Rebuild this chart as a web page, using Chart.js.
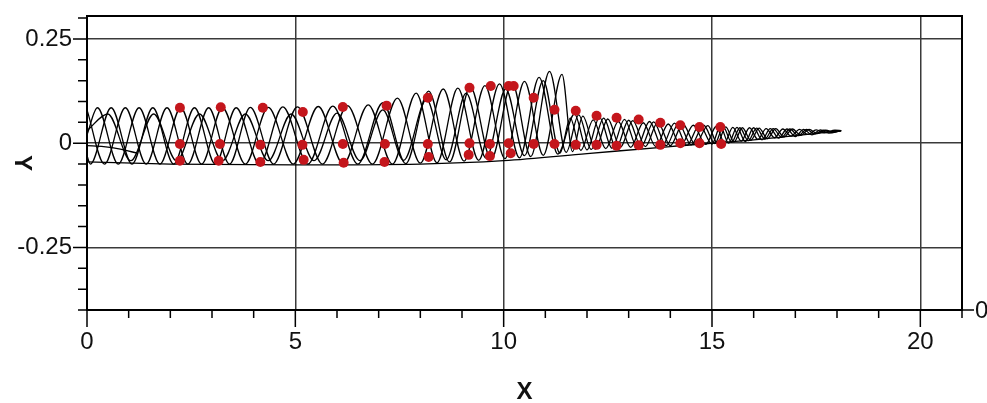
<!DOCTYPE html>
<html>
<head>
<meta charset="utf-8">
<script src="https://cdn.jsdelivr.net/npm/chart.js@4"></script>
<style>
  html, body { margin: 0; padding: 0; background: #fff; }
</style>
</head>
<body>
<canvas id="waveChart" width="987" height="403"></canvas>
<script>
// axis ticks
var xTickLabels = [0, 5, 10, 15, 20];
var yTickLabels = [-0.25, 0, 0.25];
var xMinorTicks = [0, 1, 2, 3, 4, 5, 6, 7, 8, 9, 10, 11, 12, 13, 14, 15, 16, 17, 18, 19, 20, 21];
var yMinorTicks = [-0.4, -0.35, -0.3, -0.25, -0.2, -0.15, -0.1, -0.05, 0, 0.05, 0.1, 0.15, 0.2, 0.25, 0.3];

// computed outlines, four phases (x, y)
var waveA = [[0,0.02],[0.25,0.085],[0.75,-0.05],[1.25,0.085],[1.75,-0.05],[2.25,0.085],[2.75,-0.05],[3.25,0.085],[3.8,-0.05],[4.35,0.086],[4.95,-0.05],[5.55,0.088],[6.15,-0.05],[6.75,0.092],[7.33,-0.05],[7.9,0.12],[8.4,-0.047],[8.9,0.132],[9.4,-0.041],[9.9,0.142],[10.38,-0.035],[10.85,0.158],[11.3,-0.026],[11.7,0.07],[12.0,-0.016],[12.3,0.062],[12.6,-0.012],[12.9,0.057],[13.2,-0.009],[13.5,0.052],[13.8,-0.007],[14.1,0.048],[14.4,-0.005],[14.7,0.044],[15.0,-0.002],[15.2,0.04],[15.4,0.0],[15.6,0.038],[15.8,0.004],[16.0,0.037],[16.2,0.008],[16.4,0.035],[16.6,0.012],[16.8,0.034],[17.0,0.016],[17.2,0.033],[17.4,0.02],[17.6,0.032],[17.8,0.024],[18.1,0.03]];
var waveB = [[0,-0.03],[0.08,-0.05],[0.58,0.085],[1.08,-0.05],[1.58,0.085],[2.08,-0.05],[2.58,0.085],[3.08,-0.05],[3.58,0.085],[4.14,-0.05],[4.7,0.087],[5.3,-0.05],[5.9,0.089],[6.5,-0.05],[7.1,0.097],[7.65,-0.049],[8.2,0.125],[8.7,-0.045],[9.2,0.135],[9.7,-0.039],[10.2,0.145],[10.65,-0.032],[11.1,0.172],[11.5,-0.022],[11.8,0.068],[12.1,-0.015],[12.4,0.06],[12.7,-0.011],[13.0,0.055],[13.3,-0.008],[13.6,0.051],[13.9,-0.006],[14.2,0.047],[14.5,-0.004],[14.8,0.043],[15.07,-0.001],[15.27,0.039],[15.47,0.002],[15.67,0.037],[15.87,0.006],[16.07,0.036],[16.27,0.01],[16.47,0.035],[16.67,0.014],[16.87,0.034],[17.07,0.018],[17.27,0.033],[17.47,0.022],[17.67,0.031],[17.87,0.026],[18.1,0.03]];
var waveC = [[0,0.08],[0.42,-0.05],[0.92,0.085],[1.42,-0.05],[1.92,0.085],[2.42,-0.05],[2.92,0.085],[3.42,-0.05],[3.92,0.086],[4.48,-0.05],[5.05,0.087],[5.65,-0.05],[6.25,0.09],[6.85,-0.05],[7.45,0.108],[8.0,-0.048],[8.55,0.13],[9.05,-0.043],[9.55,0.138],[10.03,-0.037],[10.5,0.148],[10.95,-0.029],[11.4,0.165],[11.65,-0.02],[11.9,0.065],[12.2,-0.014],[12.5,0.058],[12.8,-0.01],[13.1,0.054],[13.4,-0.008],[13.7,0.05],[14.0,-0.006],[14.3,0.046],[14.6,-0.003],[14.9,0.042],[15.13,0.0],[15.33,0.039],[15.53,0.003],[15.73,0.037],[15.93,0.007],[16.13,0.036],[16.33,0.011],[16.53,0.035],[16.73,0.015],[16.93,0.034],[17.13,0.019],[17.33,0.033],[17.53,0.023],[17.73,0.031],[17.93,0.027],[18.1,0.03]];
var waveD = [[0,0.03],[0.5,0.07],[1.05,-0.042],[1.6,0.07],[2.15,-0.042],[2.7,0.07],[3.25,-0.042],[3.8,0.07],[4.35,-0.042],[4.9,0.07],[5.45,-0.042],[6.0,0.072],[6.55,-0.042],[7.1,0.08],[7.6,-0.041],[8.15,0.105],[8.62,-0.04],[9.1,0.12],[9.58,-0.036],[10.05,0.13],[10.5,-0.03],[10.95,0.15],[11.35,-0.024],[11.6,0.06],[11.85,-0.017],[12.15,0.056],[12.45,-0.013],[12.75,0.052],[13.05,-0.01],[13.35,0.049],[13.65,-0.008],[13.95,0.046],[14.25,-0.006],[14.55,0.043],[14.85,-0.003],[15.1,0.04],[15.3,0.001],[15.5,0.038],[15.7,0.005],[15.9,0.037],[16.1,0.009],[16.3,0.035],[16.5,0.013],[16.7,0.034],[16.9,0.017],[17.1,0.033],[17.3,0.021],[17.5,0.032],[17.7,0.025],[17.95,0.031],[18.1,0.03]];
var baseLine = [[0,-0.045],[2,-0.05],[5,-0.052],[8,-0.05],[10,-0.042],[12,-0.025],[14,-0.008],[16,0.008],[18.1,0.03]];
var midLine = [[0,-0.006],[0.4,-0.008],[0.8,-0.014],[1.2,-0.024]];

// measured points, three rows (x, y)
var dotsTop = [[2.23,0.085],[3.21,0.086],[4.22,0.085],[5.18,0.075],[6.14,0.087],[7.19,0.09],[8.18,0.109],[9.18,0.133],[9.69,0.137],[10.12,0.137],[10.24,0.137],[10.72,0.109],[11.22,0.08],[11.73,0.078],[12.23,0.066],[12.71,0.061],[13.24,0.057],[13.76,0.049],[14.24,0.043],[14.7,0.039],[15.2,0.039]];
var dotsMid = [[2.23,-0.002],[3.19,-0.002],[4.16,-0.004],[5.17,-0.004],[6.14,-0.002],[7.15,-0.002],[8.18,-0.002],[9.18,0.0],[9.67,-0.002],[10.12,0.0],[10.72,-0.002],[11.22,-0.002],[11.73,-0.004],[12.23,-0.004],[12.71,-0.006],[13.24,-0.005],[13.76,-0.004],[14.24,0.0],[14.7,0.0],[15.22,-0.002]];
var dotsLow = [[2.23,-0.042],[3.16,-0.042],[4.16,-0.045],[5.2,-0.04],[6.16,-0.047],[7.14,-0.045],[8.2,-0.033],[9.16,-0.028],[9.67,-0.031],[10.17,-0.024]];

function toPoints(arr) {
  return arr.map(function(p) { return { x: p[0], y: p[1] }; });
}

function isNear(list, v) {
  return list.some(function(t) { return Math.abs(t - v) < 1e-6; });
}

function lineSet(arr) {
  return {
    data: toPoints(arr),
    showLine: true,
    borderColor: '#000',
    borderWidth: 1.3,
    pointRadius: 0,
    cubicInterpolationMode: 'monotone',
    order: 2
  };
}

function dotSet(arr) {
  return {
    data: toPoints(arr),
    showLine: false,
    pointRadius: 5,
    pointBackgroundColor: '#c4161c',
    pointBorderColor: '#c4161c',
    pointBorderWidth: 0,
    order: 0
  };
}

// frame, outside tick marks and axis titles
var framePlugin = {
  id: 'frame',
  afterDraw: function(chart) {
    var ctx = chart.ctx;
    var a = chart.chartArea;
    var xs = chart.scales.x;
    var ys = chart.scales.y;
    ctx.save();
    ctx.strokeStyle = '#000';
    ctx.lineWidth = 1.5;
    ctx.beginPath();
    xMinorTicks.forEach(function(v) {
      var px = xs.getPixelForValue(v);
      var len = isNear(xTickLabels, v) ? 17 : 8;
      ctx.moveTo(px, a.bottom);
      ctx.lineTo(px, a.bottom + len);
    });
    yMinorTicks.forEach(function(v) {
      var py = ys.getPixelForValue(v);
      var len = isNear(yTickLabels, v) ? 14 : 9;
      ctx.moveTo(a.left - len, py);
      ctx.lineTo(a.left, py);
    });
    // stray dash of a clipped second axis
    ctx.moveTo(a.right, a.bottom);
    ctx.lineTo(a.right + 12, a.bottom);
    ctx.stroke();

    ctx.lineWidth = 2;
    ctx.strokeRect(a.left, a.top, a.right - a.left, a.bottom - a.top);

    ctx.fillStyle = '#111';
    ctx.font = '24px "Liberation Sans", Arial, sans-serif';
    ctx.textAlign = 'left';
    ctx.textBaseline = 'middle';
    ctx.fillText('0', a.right + 13, a.bottom + 1);

    ctx.font = 'bold 24px "Liberation Sans", Arial, sans-serif';
    ctx.textAlign = 'center';
    ctx.fillText('X', (a.left + a.right) / 2, 392);

    ctx.translate(22, (a.top + a.bottom) / 2);
    ctx.rotate(Math.PI / 2);
    ctx.fillText('Y', 0, 0);
    ctx.restore();
  }
};

Chart.defaults.font.family = '"Liberation Sans", Arial, sans-serif';
Chart.defaults.color = '#111';

var ctx = document.getElementById('waveChart').getContext('2d');
window.waveChart = new Chart(ctx, {
  type: 'scatter',
  data: {
    datasets: [
      lineSet(waveA), lineSet(waveB), lineSet(waveC), lineSet(waveD), lineSet(baseLine), lineSet(midLine),
      dotSet(dotsTop), dotSet(dotsMid), dotSet(dotsLow)
    ]
  },
  options: {
    responsive: false,
    animation: false,
    layout: { padding: { top: 16, right: 25, bottom: 0, left: 0 } },
    plugins: {
      legend: { display: false },
      tooltip: { enabled: false }
    },
    scales: {
      x: {
        type: 'linear',
        min: 0,
        max: 21,
        afterFit: function(scale) {
          scale.height = 93;
          scale.paddingLeft = 0;
          scale.paddingRight = 0;
        },
        border: { display: false },
        grid: {
          drawTicks: false,
          lineWidth: 1.5,
          color: function(c) {
            return c.tick && isNear(xTickLabels, c.tick.value) ? '#3a3a3a' : 'rgba(0,0,0,0)';
          }
        },
        ticks: {
          stepSize: 1,
          autoSkip: false,
          maxRotation: 0,
          padding: 18,
          font: { size: 24 },
          callback: function(v) { return isNear(xTickLabels, v) ? String(v) : ''; }
        }
      },
      y: {
        type: 'linear',
        min: -0.4,
        max: 0.305,
        afterFit: function(scale) {
          scale.width = 87;
          scale.paddingTop = 0;
          scale.paddingBottom = 0;
        },
        border: { display: false },
        grid: {
          drawTicks: false,
          lineWidth: 1.5,
          color: function(c) {
            return c.tick && isNear(yTickLabels, c.tick.value) ? '#3a3a3a' : 'rgba(0,0,0,0)';
          }
        },
        ticks: {
          stepSize: 0.05,
          autoSkip: false,
          padding: 15,
          font: { size: 24 },
          callback: function(v) {
            for (var i = 0; i < yTickLabels.length; i++) {
              if (Math.abs(yTickLabels[i] - v) < 1e-6) return String(yTickLabels[i]);
            }
            return '';
          }
        }
      }
    }
  },
  plugins: [framePlugin]
});
</script>
</body>
</html>
